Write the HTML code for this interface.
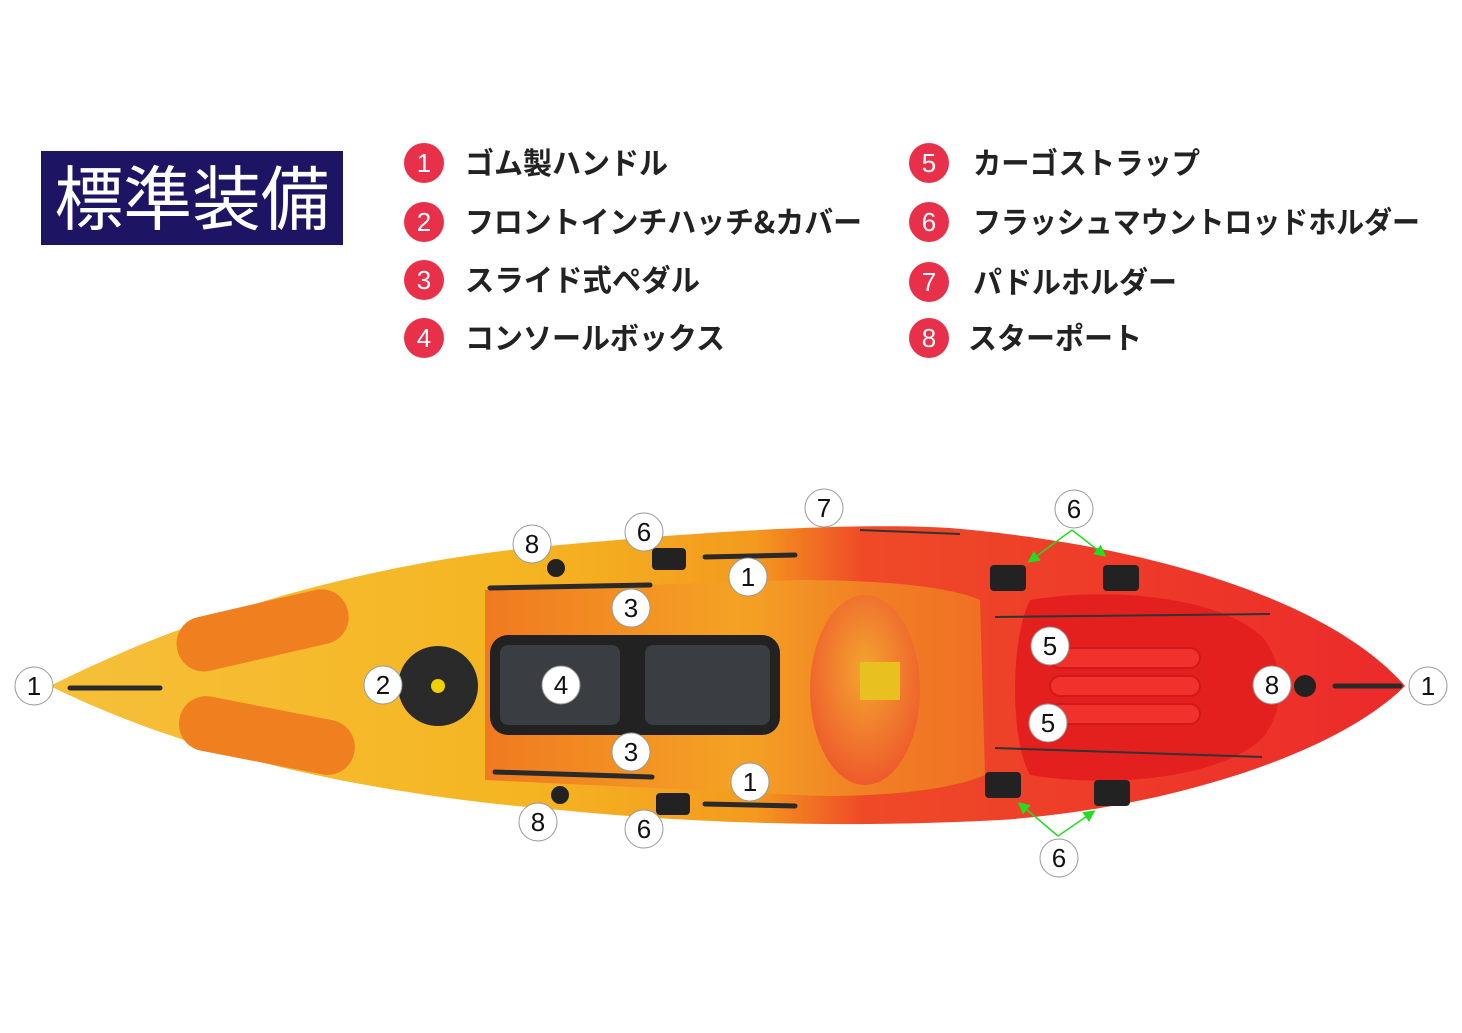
<!DOCTYPE html>
<html><head><meta charset="utf-8"><style>
body{margin:0;background:#fff;width:1462px;height:1033px;overflow:hidden;font-family:"Liberation Sans","Noto Sans CJK JP",sans-serif}
svg{position:absolute;left:0;top:0}
</style></head><body>
<svg width="1462" height="1033" viewBox="0 0 1462 1033" xmlns="http://www.w3.org/2000/svg">
<defs>
<linearGradient id="hull" x1="0" x2="1" y1="0" y2="0">
<stop offset="0" stop-color="#f6c03a"/><stop offset="0.35" stop-color="#f5b522"/><stop offset="0.52" stop-color="#f49a1e"/><stop offset="0.6" stop-color="#ef4a28"/><stop offset="1" stop-color="#ec2a2a"/>
</linearGradient>
<linearGradient id="cock" x1="0" x2="1"><stop offset="0" stop-color="#ef6a20"/><stop offset="0.5" stop-color="#f4a326"/><stop offset="1" stop-color="#f07a22"/></linearGradient>
<radialGradient id="seat" cx="0.5" cy="0.4" r="0.6"><stop offset="0" stop-color="#f4a530"/><stop offset="1" stop-color="#ee5a2c"/></radialGradient>
<marker id="ah" markerWidth="8" markerHeight="8" refX="6" refY="4" orient="auto"><path d="M0,0 L8,4 L0,8 Z" fill="#22dd22"/></marker>
</defs>
<rect x="41" y="151" width="302" height="94" fill="#1e1464"/>
<text x="192" y="224" font-size="70" fill="#fff" text-anchor="middle" font-family="Noto Sans CJK JP,sans-serif" textLength="275" lengthAdjust="spacingAndGlyphs">標準装備</text>
<g font-size="30" fill="#222" font-weight="bold" font-family="Noto Sans CJK JP,sans-serif">
<g fill="#e8304a"><circle cx="424" cy="163" r="20"/><circle cx="424" cy="222" r="20"/><circle cx="424" cy="280" r="20"/><circle cx="424" cy="338" r="20"/><circle cx="929" cy="163" r="20"/><circle cx="929" cy="222" r="20"/><circle cx="929" cy="282" r="20"/><circle cx="929" cy="338" r="20"/></g>
<g fill="#fff" font-size="26" font-weight="normal" text-anchor="middle" font-family="Liberation Sans,sans-serif"><text x="424" y="172">1</text><text x="424" y="231">2</text><text x="424" y="289">3</text><text x="424" y="347">4</text><text x="929" y="172">5</text><text x="929" y="231">6</text><text x="929" y="291">7</text><text x="929" y="347">8</text></g>
<text x="465" y="174" textLength="203" lengthAdjust="spacingAndGlyphs">ゴム製ハンドル</text>
<text x="465" y="233" textLength="397" lengthAdjust="spacingAndGlyphs">フロントインチハッチ&amp;カバー</text>
<text x="465" y="291" textLength="235" lengthAdjust="spacingAndGlyphs">スライド式ペダル</text>
<text x="465" y="349" textLength="260" lengthAdjust="spacingAndGlyphs">コンソールボックス</text>
<text x="973" y="174" textLength="227" lengthAdjust="spacingAndGlyphs">カーゴストラップ</text>
<text x="973" y="233" textLength="447" lengthAdjust="spacingAndGlyphs">フラッシュマウントロッドホルダー</text>
<text x="973" y="293" textLength="204" lengthAdjust="spacingAndGlyphs">パドルホルダー</text>
<text x="968" y="349" textLength="174" lengthAdjust="spacingAndGlyphs">スターポート</text>
</g>
<path d="M50,686 C200,610 380,560 560,545 C700,532 850,522 950,528 C1150,545 1330,600 1405,686 C1330,760 1150,810 1000,820 C850,828 700,824 560,810 C380,795 200,760 50,686 Z" fill="url(#hull)"/>
<path d="M485,590 L800,580 C840,580 940,582 980,600 L985,775 C940,795 840,798 800,795 L485,780 Z" fill="url(#cock)" opacity="0.8"/>
<ellipse cx="865" cy="690" rx="55" ry="95" fill="url(#seat)"/>
<rect x="860" y="662" width="40" height="38" fill="#e8c020"/>
<path d="M1030,600 C1120,585 1230,600 1265,640 C1285,670 1285,705 1265,735 C1230,775 1120,790 1030,775 C1010,740 1010,640 1030,600Z" fill="#e4201e"/>
<g fill="#f0312c" stroke="#d21818" stroke-width="2"><rect x="1050" y="648" width="150" height="20" rx="10"/><rect x="1050" y="676" width="150" height="20" rx="10"/><rect x="1050" y="704" width="150" height="20" rx="10"/></g>
<g fill="#f07f20"><rect x="175" y="603" width="175" height="55" rx="27" transform="rotate(-13 262 630)"/><rect x="178" y="708" width="178" height="55" rx="27" transform="rotate(11 267 735)"/></g>
<circle cx="438" cy="686" r="40" fill="#2a2a2a"/><circle cx="438" cy="686" r="7" fill="#f0d000"/>
<rect x="490" y="635" width="290" height="100" rx="18" fill="#222"/>
<rect x="500" y="645" width="120" height="80" rx="8" fill="#3a3d42"/><rect x="645" y="645" width="125" height="80" rx="8" fill="#3a3d42"/>
<g stroke="#2a2a2a" stroke-width="5" stroke-linecap="round">
<line x1="490" y1="588" x2="650" y2="585"/><line x1="495" y1="772" x2="652" y2="777"/>
<line x1="70" y1="688" x2="160" y2="688"/><line x1="1335" y1="686" x2="1400" y2="686"/>
<line x1="705" y1="557" x2="795" y2="555"/><line x1="705" y1="804" x2="795" y2="806"/>
</g>
<g stroke="#333" stroke-width="2"><line x1="995" y1="617" x2="1270" y2="614"/><line x1="995" y1="748" x2="1262" y2="757"/><line x1="860" y1="530" x2="960" y2="534"/></g>
<g fill="#222"><rect x="652" y="548" width="34" height="22" rx="4"/><rect x="656" y="793" width="34" height="22" rx="4"/><rect x="990" y="565" width="36" height="26" rx="4"/><rect x="1103" y="565" width="36" height="26" rx="4"/><rect x="985" y="772" width="36" height="26" rx="4"/><rect x="1094" y="780" width="36" height="26" rx="4"/><circle cx="556" cy="568" r="9"/><circle cx="560" cy="795" r="9"/><circle cx="1305" cy="686" r="11"/></g>
<g stroke="#22dd22" stroke-width="1.5" fill="none" marker-end="url(#ah)">
<line x1="1072" y1="530" x2="1030" y2="561"/><line x1="1072" y1="530" x2="1104" y2="555"/><line x1="1058" y1="836" x2="1020" y2="804"/><line x1="1058" y1="836" x2="1093" y2="812"/></g>
<g fill="#fff" stroke="#999" stroke-width="1"><circle cx="34" cy="686" r="19"/><circle cx="383" cy="685" r="19"/><circle cx="561" cy="685" r="19"/><circle cx="631" cy="608" r="19"/><circle cx="631" cy="752" r="19"/><circle cx="532" cy="544" r="19"/><circle cx="538" cy="822" r="19"/><circle cx="644" cy="532" r="19"/><circle cx="644" cy="829" r="19"/><circle cx="748" cy="577" r="19"/><circle cx="750" cy="782" r="19"/><circle cx="824" cy="508" r="19"/><circle cx="1074" cy="509" r="19"/><circle cx="1059" cy="858" r="19"/><circle cx="1050" cy="646" r="19"/><circle cx="1048" cy="723" r="19"/><circle cx="1272" cy="685" r="19"/><circle cx="1428" cy="686" r="19"/></g>
<g font-size="26" fill="#111" text-anchor="middle">
<text x="34" y="695">1</text><text x="383" y="694">2</text><text x="561" y="694">4</text><text x="631" y="617">3</text><text x="631" y="761">3</text><text x="532" y="553">8</text><text x="538" y="831">8</text><text x="644" y="541">6</text><text x="644" y="838">6</text><text x="748" y="586">1</text><text x="750" y="791">1</text><text x="824" y="517">7</text><text x="1074" y="518">6</text><text x="1059" y="867">6</text><text x="1050" y="655">5</text><text x="1048" y="732">5</text><text x="1272" y="694">8</text><text x="1428" y="695">1</text>
</g>
</svg>
</body></html>
